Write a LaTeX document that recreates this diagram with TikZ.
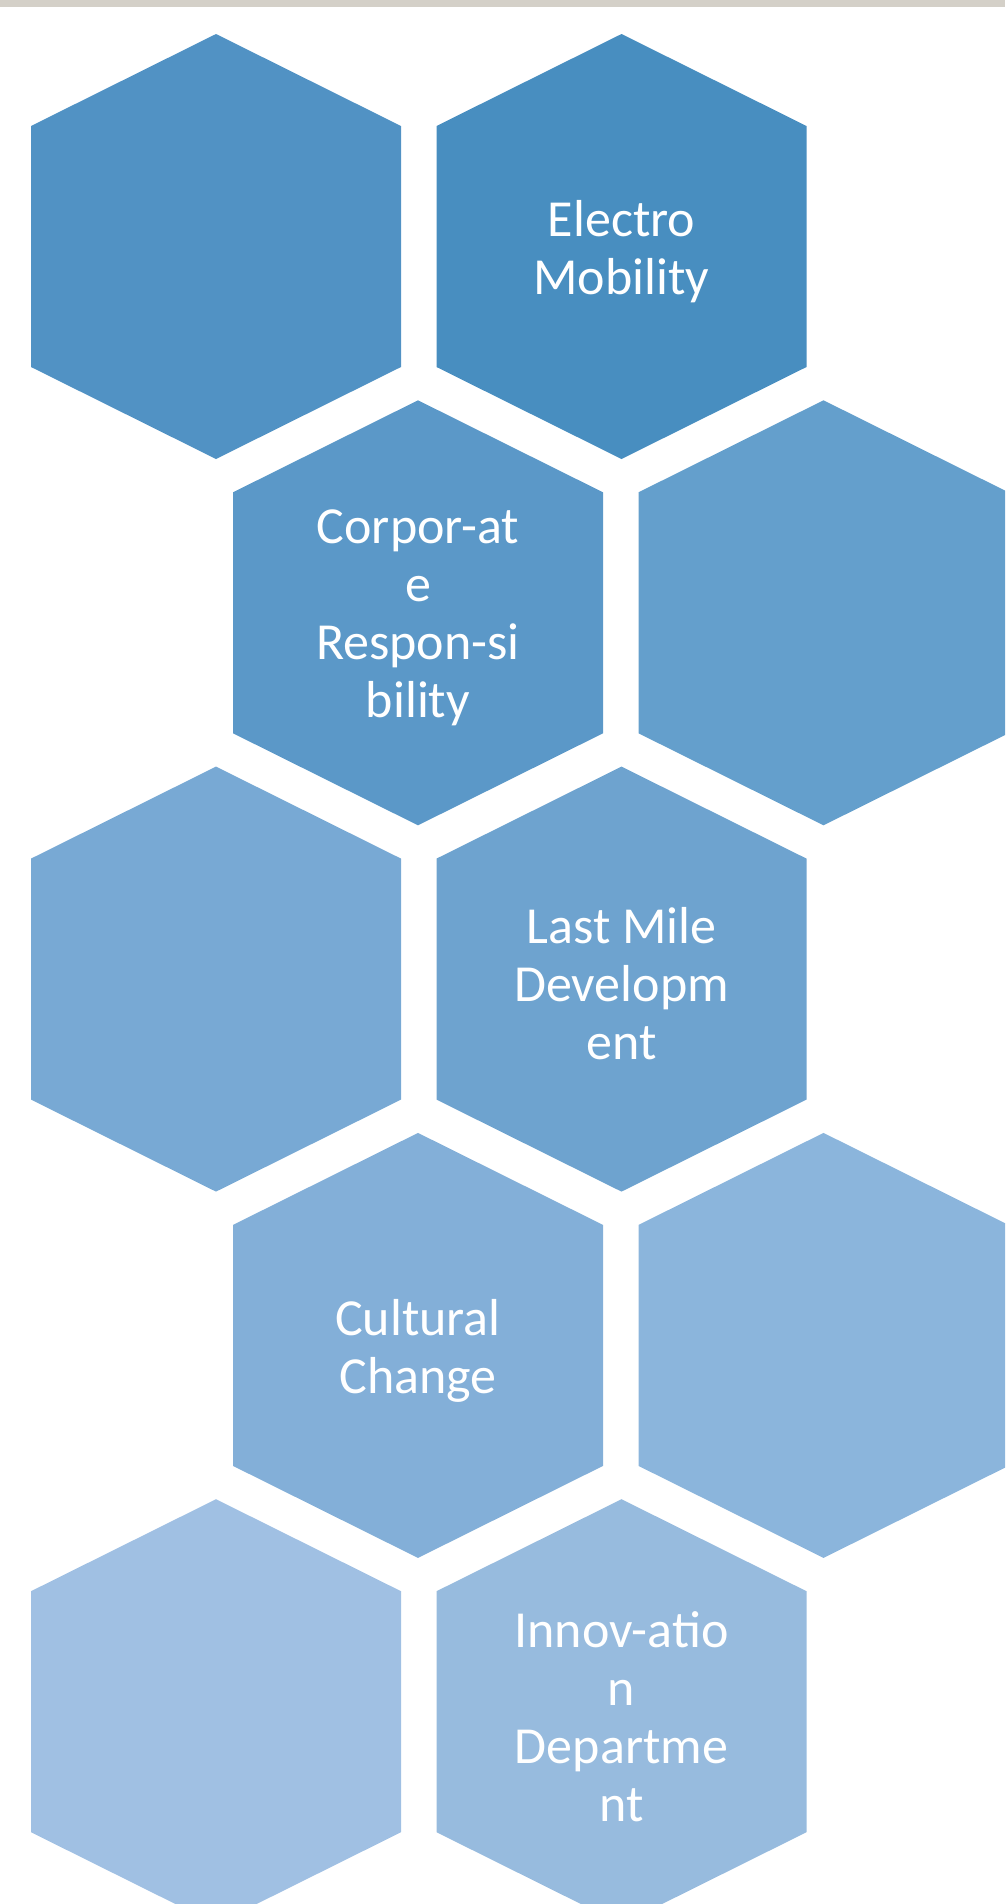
\documentclass[tikz,border=0pt]{standalone}
\usepackage{fontspec}
\setmainfont{Carlito}
\definecolor{topbar}{HTML}{D4D0C8}
\definecolor{hexA}{HTML}{488EC0}
\definecolor{hexB}{HTML}{5192C4}
\definecolor{hexC}{HTML}{5B98C8}
\definecolor{hexD}{HTML}{649FCC}
\definecolor{hexE}{HTML}{6EA3CF}
\definecolor{hexF}{HTML}{78A9D4}
\definecolor{hexG}{HTML}{83AFD8}
\definecolor{hexH}{HTML}{8BB5DC}
\definecolor{hexI}{HTML}{97BBDE}
\definecolor{hexJ}{HTML}{A0C0E3}
% one honeycomb cell: name, centre x, centre y, fill colour, label
\newcommand\hexcell[5]{%
  \fill[#4] (#2,#3) ++(0,-212.5) -- ++(185,92) -- ++(0,241) -- ++(-185,92)
    -- ++(-185,-92) -- ++(0,-241) -- cycle;
  \node[hexlabel] (#1) at (#2,#3) {#5};
}
\begin{document}
\begin{tikzpicture}[x=1pt,y=-1pt,
  hexlabel/.style={text=white, align=center, inner sep=0pt, yshift=-5pt,
    font=\fontsize{52}{58}\selectfont}]
\useasboundingbox (0,0) rectangle (1005,1904);
\clip (0,0) rectangle (1005,1904);
\fill[topbar] (0,0) rectangle (1005,7);
% row 1
\hexcell{h1}{216}{246.5}{hexB}{}
\hexcell{h2}{621.5}{246.5}{hexA}{Electro\\Mobility}
% row 2
\hexcell{h3}{418}{612.8}{hexC}{Corpor-at\\e\\Respon-si\\bility}
\hexcell{h4}{823.5}{612.8}{hexD}{}
% row 3
\hexcell{h5}{216}{979.1}{hexF}{}
\hexcell{h6}{621.5}{979.1}{hexE}{Last Mile\\Developm\\ent}
% row 4
\hexcell{h7}{418}{1345.4}{hexG}{Cultural\\Change}
\hexcell{h8}{823.5}{1345.4}{hexH}{}
% row 5
\hexcell{h9}{216}{1711.7}{hexJ}{}
\hexcell{h10}{621.5}{1711.7}{hexI}{Innov-atio\\n\\Departme\\nt}
\end{tikzpicture}
\end{document}
